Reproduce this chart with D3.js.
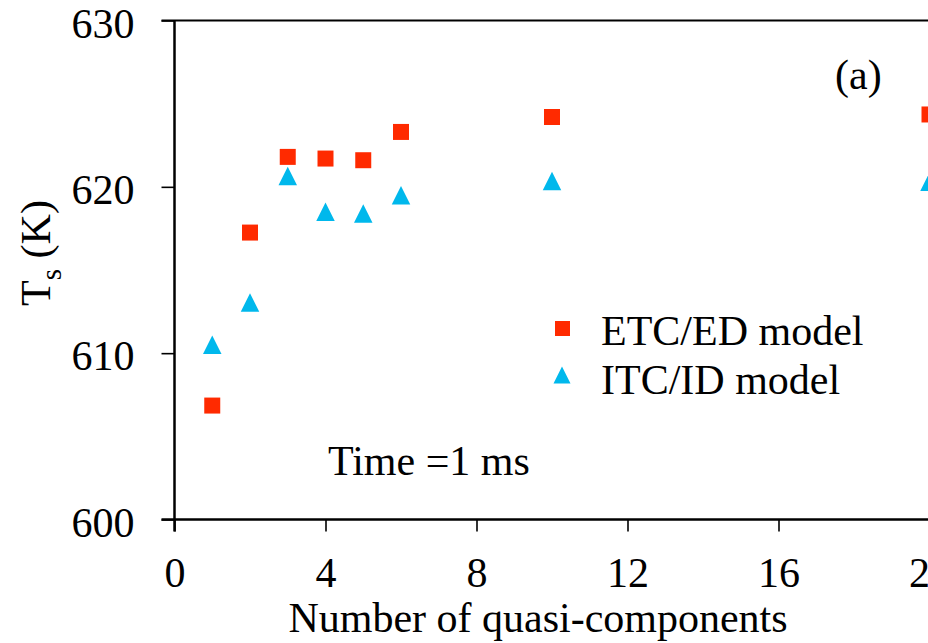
<!DOCTYPE html>
<html>
<head>
    <script type="text/javascript" src="https://d3js.org/d3.v7.min.js"></script>
    <style>
        body { margin: 0; background: white; }
        text { font-family: "Liberation Serif", "Times New Roman", serif; fill: #000; }
    </style>
</head>
<body>
    <div id="chart"></div>
    <script type="text/javascript">
        // data
        const nComponents = [1, 2, 3, 4, 5, 6, 10, 20];
        const etcTemps = [606.85, 617.25, 621.8, 621.7, 621.6, 623.3, 624.2, 624.35];
        const itcTemps = [610.5, 613.05, 620.65, 618.5, 618.4, 619.5, 620.35, 620.3];
        const xTicks = [0, 4, 8, 12, 16, 20];
        const yTicks = [600, 610, 620, 630];

        // layout constants
        const width = 928, height = 643;
        const plotLeft = 174.5, plotTop = 20.5, plotBottom = 519.5;
        const plotRight = 929.5; // x = 20 sits just past the window edge
        const fontSize = "42px";
        const red = "#ff2a00";
        const cyan = "#00b8ec";

        const svg = d3.select("#chart")
            .append("svg")
            .attr("width", width)
            .attr("height", height);

        const x = d3.scaleLinear().domain([0, 20]).range([plotLeft, plotRight]);
        const y = d3.scaleLinear().domain([600, 630]).range([plotBottom, plotTop]);

        // triangle whose width equals its height, centred on its box
        const boxTriangle = {
            draw(context, size) {
                const h = Math.sqrt(size) / 2;
                context.moveTo(0, -h);
                context.lineTo(h, h);
                context.lineTo(-h, h);
                context.closePath();
            }
        };

        // frame top line
        svg.append("line")
            .attr("x1", plotLeft - 13).attr("x2", width + 10)
            .attr("y1", plotTop).attr("y2", plotTop)
            .attr("stroke", "#000").attr("stroke-width", 2);

        // axes
        const xAxis = svg.append("g")
            .attr("transform", `translate(0,${plotBottom})`)
            .call(d3.axisBottom(x).tickValues(xTicks).tickSize(12).tickSizeOuter(0));
        const yAxis = svg.append("g")
            .attr("transform", `translate(${plotLeft},0)`)
            .call(d3.axisLeft(y).tickValues(yTicks).tickSize(13).tickSizeOuter(0).tickPadding(27));

        [xAxis, yAxis].forEach(g => {
            g.select(".domain").attr("stroke", "#000").attr("stroke-width", 2.5);
            g.selectAll(".tick line").attr("stroke", "#000").attr("stroke-width", 1.6);
            g.selectAll(".tick text")
                .style("font-family", "'Liberation Serif', serif")
                .style("font-size", fontSize)
                .attr("fill", "#000");
        });
        // stretch the x-axis line to the window edge and down to the 0 tick on the left
        xAxis.select(".domain").attr("d", `M${plotLeft - 13},0H${width + 10}`);
        yAxis.select(".domain").attr("d", `M0,${plotTop}V${plotBottom + 12}`);
        yAxis.selectAll(".tick text").attr("dy", "0.4em");
        xAxis.selectAll(".tick text").attr("y", 67.5).attr("dy", 0);

        // series
        svg.selectAll("path.etc")
            .data(nComponents)
            .enter()
            .append("path")
            .attr("class", "etc")
            .attr("transform", (d, i) => `translate(${x(d)},${y(etcTemps[i])})`)
            .attr("d", d3.symbol().type(d3.symbolSquare).size(16 * 16))
            .attr("fill", red);

        svg.selectAll("path.itc")
            .data(nComponents)
            .enter()
            .append("path")
            .attr("class", "itc")
            .attr("transform", (d, i) => `translate(${x(d)},${y(itcTemps[i])})`)
            .attr("d", d3.symbol().type(boxTriangle).size(18.5 * 18.5))
            .attr("fill", cyan);

        // legend
        svg.append("path")
            .attr("transform", "translate(562.5,328.5)")
            .attr("d", d3.symbol().type(d3.symbolSquare).size(15 * 15))
            .attr("fill", red);
        svg.append("path")
            .attr("transform", "translate(562,375)")
            .attr("d", d3.symbol().type(boxTriangle).size(17 * 17))
            .attr("fill", cyan);
        svg.append("text").attr("x", 601).attr("y", 345)
            .style("font-size", fontSize).text("ETC/ED model");
        svg.append("text").attr("x", 601).attr("y", 394)
            .style("font-size", fontSize).text("ITC/ID model");

        // annotations
        svg.append("text").attr("x", 328).attr("y", 475)
            .style("font-size", fontSize).text("Time =1 ms");
        svg.append("text").attr("x", 835).attr("y", 89)
            .style("font-size", fontSize).text("(a)");

        // axis titles
        svg.append("text")
            .attr("x", 538).attr("y", 632)
            .attr("text-anchor", "middle")
            .style("font-size", fontSize)
            .text("Number of quasi-components");

        const yTitle = svg.append("text")
            .attr("transform", "translate(50,253) rotate(-90)")
            .attr("text-anchor", "middle")
            .style("font-size", fontSize);
        yTitle.append("tspan").text("T");
        yTitle.append("tspan").attr("dy", 11).style("font-size", "29px").text("s");
        yTitle.append("tspan").attr("dy", -11).text(" (K)");
    </script>
</body>
</html>
